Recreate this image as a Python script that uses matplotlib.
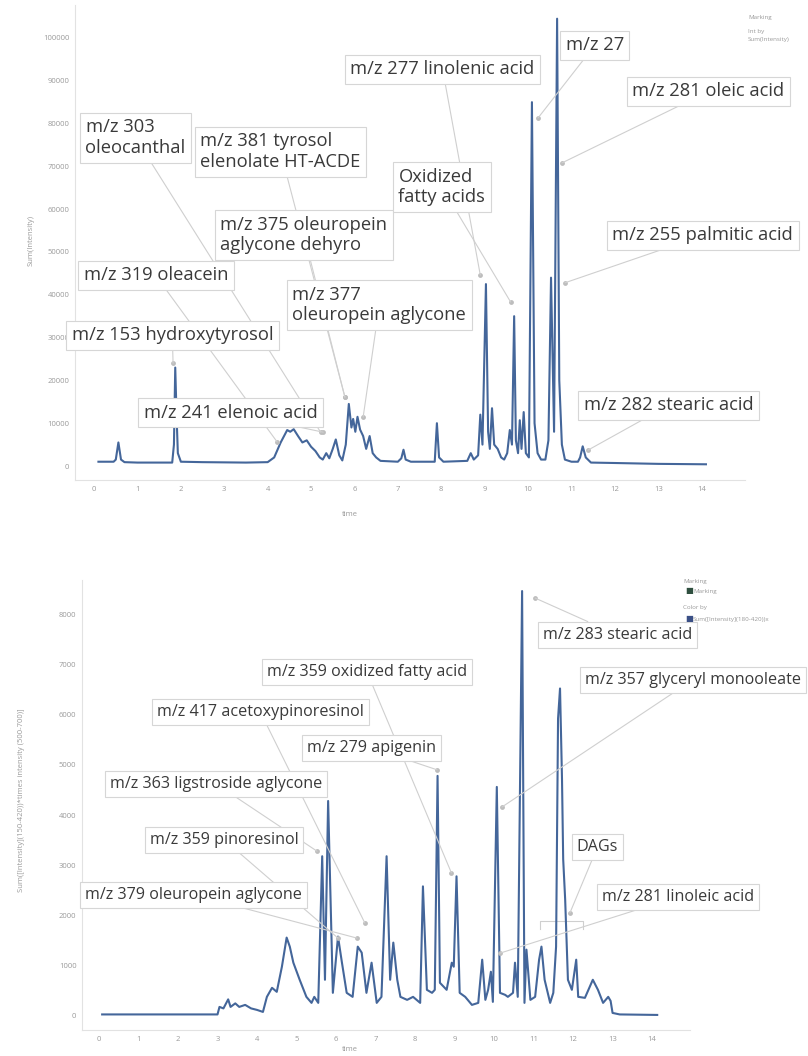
import matplotlib
matplotlib.use('Agg')
import matplotlib.pyplot as plt

plt.rcParams['font.family'] = ['Open Sans', 'DejaVu Sans']

# ---- top chromatogram: Sum(Intensity) vs time ----
top_time = [0.1, 0.45, 0.5, 0.56, 0.62, 0.7, 1.0, 1.8, 1.84, 1.87, 1.9, 1.93, 2.0, 2.5, 3.5, 4.0,
            4.15, 4.3, 4.45, 4.52, 4.6, 4.7, 4.8, 4.9, 5.0, 5.1, 5.2, 5.27, 5.35, 5.42, 5.5, 5.57,
            5.65, 5.72, 5.8, 5.87, 5.93, 5.97, 6.02, 6.07, 6.13, 6.2, 6.27, 6.35, 6.42, 6.5, 6.6,
            7.0, 7.08, 7.13, 7.18, 7.3, 7.85, 7.9, 7.95, 8.05, 8.6, 8.68, 8.75, 8.85, 8.9, 8.95,
            9.03, 9.08, 9.12, 9.17, 9.22, 9.3, 9.38, 9.45, 9.52, 9.58, 9.63, 9.68, 9.72, 9.77,
            9.81, 9.85, 9.9, 9.95, 10.02, 10.09, 10.15, 10.22, 10.3, 10.4, 10.47, 10.53, 10.6,
            10.67, 10.72, 10.78, 10.85, 11.0, 11.15, 11.2, 11.26, 11.33, 11.45, 12.0, 13.0, 14.1]
top_int = [1000, 1000, 1500, 5500, 1500, 900, 800, 800, 5000, 23000, 12000, 3000, 1000, 900, 800, 900,
           2000, 5500, 8400, 8000, 8600, 7000, 5500, 6000, 4500, 3500, 2000, 1500, 3000, 1800, 4000, 6200,
           2500, 1300, 5000, 14500, 9000, 11000, 8000, 11500, 8500, 7000, 4000, 7000, 3000, 2000, 1200,
           1000, 1800, 3800, 1500, 1000, 1000, 10000, 2000, 1000, 1200, 3000, 1500, 2500, 12000, 5000,
           42500, 8000, 4000, 13500, 5000, 4000, 2000, 1500, 3000, 8400, 5000, 35000, 6000, 3000,
           10700, 4000, 12600, 3000, 2000, 85000, 10000, 3000, 1500, 1500, 6000, 44000, 8000,
           104500, 20000, 5000, 1500, 1000, 1000, 2000, 4600, 2000, 800, 700, 500, 400]

top_labels = ['m/z 303\noleocanthal', 'm/z 381 tyrosol\nelenolate HT-ACDE',
              'm/z 375 oleuropein\naglycone dehyro', 'm/z 319 oleacein',
              'm/z 377\noleuropein aglycone', 'm/z 153 hydroxytyrosol', 'm/z 241 elenoic acid',
              'm/z 277 linolenic acid', 'Oxidized\nfatty acids', 'm/z 27', 'm/z 281 oleic acid',
              'm/z 255 palmitic acid', 'm/z 282 stearic acid']
top_mark_time = [5.22, 5.78, 5.78, 4.22, 6.2, 1.82, 5.28, 8.9, 9.6, 10.23, 10.78, 10.85, 11.38]
top_mark_int = [7900, 16100, 16100, 5600, 11400, 24000, 7900, 44600, 38300, 81300, 70800, 42800, 3700]

# ---- bottom chromatogram ----
bot_time = [0.08, 3.0, 3.05, 3.15, 3.27, 3.33, 3.45, 3.55, 3.7, 3.85, 4.0, 4.15, 4.25, 4.38, 4.5,
            4.63, 4.75, 4.83, 4.92, 5.08, 5.25, 5.38, 5.45, 5.55, 5.65, 5.72, 5.8, 5.92, 6.05, 6.15,
            6.27, 6.42, 6.55, 6.65, 6.77, 6.9, 7.03, 7.15, 7.28, 7.37, 7.45, 7.55, 7.63, 7.8, 7.95,
            8.13, 8.2, 8.3, 8.43, 8.5, 8.57, 8.63, 8.8, 8.93, 8.98, 9.05, 9.13, 9.27, 9.44, 9.6,
            9.7, 9.78, 9.85, 9.92, 9.97, 10.07, 10.15, 10.28, 10.35, 10.48, 10.53, 10.6, 10.71,
            10.77, 10.82, 10.92, 11.04, 11.14, 11.2, 11.28, 11.42, 11.5, 11.57, 11.62, 11.67, 11.72,
            11.75, 11.8, 11.87, 11.97, 12.08, 12.13, 12.3, 12.5, 12.63, 12.76, 12.89, 12.95, 13.0,
            13.18, 14.13]
bot_int = [30, 30, 180, 150, 330, 180, 250, 180, 220, 150, 120, 80, 380, 560, 480,
           980, 1560, 1380, 1060, 720, 380, 260, 380, 260, 3180, 720, 4280, 460, 1580, 1060,
           460, 380, 1380, 1260, 460, 1060, 260, 380, 3180, 720, 1460, 720, 380, 320, 380,
           260, 2580, 520, 460, 520, 4780, 660, 520, 1060, 980, 2780, 460, 380, 220, 260,
           1120, 320, 520, 880, 280, 4560, 460, 420, 380, 460, 1060, 380, 8460,
           260, 1320, 320, 380, 1120, 1380, 720, 260, 460, 1380, 5920, 6520, 4720,
           3120, 2320, 720, 520, 1120, 380, 360, 720, 520, 260, 380, 300, 60,
           30, 20]

bot_labels = ['m/z 359 oxidized fatty acid', 'm/z 417 acetoxypinoresinol', 'm/z 279 apigenin',
              'm/z 363 ligstroside aglycone', 'm/z 359 pinoresinol', 'm/z 379 oleuropein aglycone',
              'm/z 283 stearic acid', 'm/z 357 glyceryl monooleate', 'DAGs', 'm/z 281 linoleic acid']
bot_mark_time = [8.92, 6.73, 8.56, 5.52, 6.05, 6.53, 11.04, 10.2, 11.92, 10.15]
bot_mark_int = [2850, 1850, 4900, 3280, 1550, 1550, 8320, 4160, 2050, 1250]
dag_range = [11.16, 12.25]
dag_level = 1890

# label box positions (left, top) in image pixels
top_box_pos = [(80, 113), (195, 127), (215, 210), (78, 261), (287, 280), (66, 321), (138, 398),
               (345, 55), (393, 162), (560, 31), (627, 77), (607, 221), (578, 391)]
bot_box_pos = [(262, 659), (152, 699), (302, 735), (105, 771), (145, 827), (80, 882),
               (538, 622), (580, 667), (572, 834), (597, 884)]

W, H = 808, 1056
fig = plt.figure(figsize=(W / 100, H / 100), dpi=100)
line_col = '#44669a'
grey = '#9a9a9a'
conn = '#cfcfcf'
text_col = '#3a3a3a'


def style_axes(ax):
    for s in ['top', 'right']:
        ax.spines[s].set_visible(False)
    for s in ['left', 'bottom']:
        ax.spines[s].set_color('#e2e2e2')
        ax.spines[s].set_linewidth(0.8)
    ax.tick_params(length=0, colors=grey, labelsize=5.5, pad=4)


def add_labels(ax, labels, mt, mi, pos, fs):
    ax.scatter(mt, mi, s=6, color='#bdbdbd', zorder=4)
    pad_px = 0.3 * fs * 100 / 72
    for lab, t, v, (bx, by) in zip(labels, mt, mi, pos):
        ax.annotate(lab, xy=(t, v), xytext=(bx + pad_px, H - by - pad_px),
                    textcoords='figure pixels', ha='left', va='top', fontsize=fs,
                    color=text_col, linespacing=1.2, zorder=5, annotation_clip=False,
                    bbox=dict(boxstyle='square,pad=0.3', fc='white', ec='#d6d6d6', lw=0.8),
                    arrowprops=dict(arrowstyle='-', color=conn, lw=0.8, shrinkA=0, shrinkB=0))


# top panel
ax1 = fig.add_axes([75 / W, 1 - 480 / H, 670 / W, 475 / H])
ax1.plot(top_time, top_int, color=line_col, lw=1.5, zorder=3)
ax1.set_xlim(-0.44, 15.0)
ax1.set_ylim(-3270, 107700)
ax1.set_xticks(range(0, 15))
ax1.set_yticks(range(0, 100001, 10000))
style_axes(ax1)
ax1.set_ylabel('Sum(Intensity)', fontsize=5.5, color=grey)
ax1.yaxis.set_label_coords(-0.06, 0.505)
ax1.set_xlabel('time', fontsize=5.5, color=grey)
ax1.xaxis.set_label_coords(0.41, -0.065)
add_labels(ax1, top_labels, top_mark_time, top_mark_int, top_box_pos, 13.2)

fig.text(748 / W, 1 - 17 / H, 'Marking', fontsize=4.5, color=grey, va='center')
fig.text(748 / W, 1 - 31 / H, 'Int by', fontsize=4.5, color=grey, va='center')
fig.text(748 / W, 1 - 39 / H, 'Sum(Intensity)', fontsize=4.5, color=grey, va='center')

# bottom panel
ax2 = fig.add_axes([82 / W, 1 - 1030 / H, 608 / W, 450 / H])
ax2.plot(bot_time, bot_int, color=line_col, lw=1.5, zorder=3)
ax2.plot([dag_range[0], dag_range[0], dag_range[1], dag_range[1]],
         [dag_level - 150, dag_level, dag_level, dag_level - 150], color=conn, lw=0.8, zorder=2)
ax2.set_xlim(-0.43, 14.96)
ax2.set_ylim(-280, 8680)
ax2.set_xticks(range(0, 15))
ax2.set_yticks(range(0, 8001, 1000))
style_axes(ax2)
ax2.set_ylabel('Sum([Intensity](150-420))*times intensity (500-700)]', fontsize=5.5, color=grey)
ax2.yaxis.set_label_coords(-0.094, 0.51)
ax2.set_xlabel('time', fontsize=5.5, color=grey)
ax2.xaxis.set_label_coords(0.44, -0.035)
add_labels(ax2, bot_labels, bot_mark_time, bot_mark_int, bot_box_pos, 11.6)

fig.text(683 / W, 1 - 581 / H, 'Marking', fontsize=4.5, color=grey, va='center')
fig.text(685 / W, 1 - 591 / H, '\u25A0', fontsize=6, color='#2f4f3f', va='center')
fig.text(693 / W, 1 - 591 / H, 'Marking', fontsize=4.5, color=grey, va='center')
fig.text(683 / W, 1 - 608 / H, 'Color by', fontsize=4.5, color=grey, va='center')
fig.text(685 / W, 1 - 619 / H, '\u25A0', fontsize=6, color='#3a4f86', va='center')
fig.text(693 / W, 1 - 619 / H, 'Sum([Intensity](180-420))x', fontsize=4.5, color=grey, va='center')

fig.savefig('out.png', dpi=100)
